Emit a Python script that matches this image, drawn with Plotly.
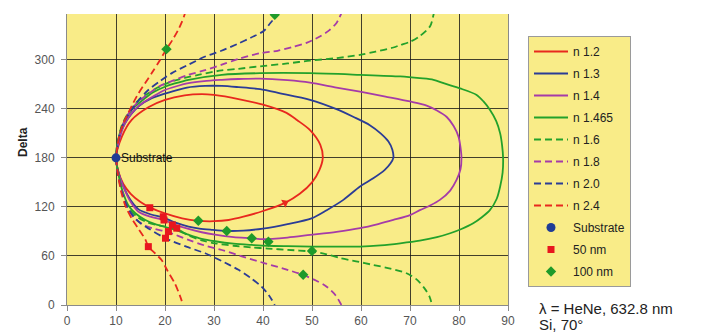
import plotly.graph_objects as go

# ---------------- data (Psi, Delta) ----------------
psi_n12 = [10, 10.5, 11.5, 13, 15, 16.9, 20, 23.5, 26.8, 30, 33, 36, 40, 44.5, 47.5, 50, 51.5, 52.2, 51.7, 49.6, 47, 44.8, 40, 35, 30, 27.5, 24, 20, 16.6, 13.2, 11.2, 10]
del_n12 = [180, 163, 148, 136, 126, 119.5, 112, 106, 103, 102.5, 104, 108, 115, 125, 136, 150, 165, 180, 196, 214, 226, 235, 245, 252, 257, 258, 256.5, 251, 242, 226.5, 206, 180]

psi_n13 = [10, 10.5, 11.5, 13, 14.6, 17, 19.7, 22, 24.8, 27, 29.5, 32.6, 36, 40, 45, 49.9, 53, 56.4, 59.8, 62.5, 64.8, 66, 66.6, 66.4, 65.6, 64, 61.8, 58.5, 55, 49.6, 43.5, 39.4, 35, 31.6, 28.2, 24.5, 21.4, 17.3, 14.6, 11.8, 10.6, 10]
del_n13 = [180, 162, 145, 128, 117, 111, 107, 101, 96, 93.5, 92, 90.6, 91, 93.5, 99, 106, 116, 128.6, 145, 155, 165, 173, 180, 190, 200, 210, 220, 230, 239.6, 251, 259, 264, 266.5, 268, 268, 266, 261, 253, 243, 222, 205, 180]

psi_n14 = [10, 10.5, 11.5, 12.8, 14.6, 17, 19.8, 21.7, 24.8, 27.5, 30.2, 34, 37.7, 40, 45, 49.6, 55, 59.8, 63.5, 66.6, 70, 72, 74.2, 76.1, 78.2, 79.5, 80.3, 80.5, 80.3, 79.9, 78.9, 77.5, 75.5, 73.4, 70, 65, 59.8, 55, 49.6, 45, 39.4, 35, 31.6, 28, 24.8, 22, 20, 17.8, 15.9, 14.5, 13.2, 11.8, 10.8, 10]
del_n14 = [180, 162, 145, 128, 114, 108, 104, 99, 93, 89, 86, 83, 81.6, 80.5, 82.5, 85.7, 89.5, 94, 99, 104, 110, 116, 122, 128.6, 140, 153, 166, 180, 193, 206, 219, 230, 238, 244, 249, 255, 261, 266, 272, 275, 277, 276.5, 275.5, 274, 271.4, 267, 263, 256, 249, 243, 234.7, 222, 205, 180]

psi_n1465 = [10, 10.5, 11.3, 12.5, 14, 16, 18, 21.5, 24.8, 27.5, 30.2, 34, 37.7, 41, 45, 50, 55, 59.8, 64, 68, 72, 75.5, 78.2, 80.5, 82.9, 84.8, 86.3, 87.7, 88.4, 88.9, 89, 88.8, 88.4, 87.6, 86.3, 85, 83.6, 80.2, 77, 74.8, 72, 68, 59.8, 49.6, 39.4, 31.6, 24.8, 22, 20, 17.5, 15.9, 14.5, 13.2, 11.2, 10.4, 10]
del_n1465 = [180, 160, 140, 122, 112, 104, 99, 93, 86, 81, 78, 75, 73.5, 72.5, 72, 71.5, 71.4, 71.5, 73, 75.5, 78.7, 83, 87.8, 93, 100, 108, 116, 130, 145, 162, 180, 195, 210, 225, 238.8, 249, 257, 265, 271, 275.5, 277.5, 279.6, 281.6, 283.6, 283.6, 281.6, 275.5, 271, 267, 260, 253, 246, 238.8, 218, 200, 180]

psi_n16_lo = [10, 10.5, 11.3, 12.5, 14.5, 16.5, 19, 22.4, 24.8, 27.5, 30.2, 34, 37.7, 41, 45, 50, 53, 55.7, 59, 62.5, 66, 69.3, 71.4, 73, 74, 74.5]
del_n16_lo = [180, 160, 138, 119, 107, 101, 97, 93, 85, 79, 75.5, 72.5, 70.5, 69, 67.5, 65.3, 62, 57.5, 53.5, 49, 44.5, 38.8, 31, 20, 10, 0]
psi_n16_hi = [75.0, 74.8, 74.1, 72, 70, 68, 66.6, 63, 59.8, 55, 49.6, 45, 39.4, 35, 31.6, 26.8, 21.4, 18.5, 16.6, 14.5, 12.5, 11.2, 10.4, 10]
del_n16_hi = [360, 355, 341, 329, 322, 318, 315, 310, 306, 302, 299, 295.5, 292, 289, 287, 281.6, 273.5, 266, 259, 250, 234.7, 220, 200, 180]

psi_n18_lo = [10, 10.4, 11.3, 12.5, 14, 16, 18, 20.7, 24.8, 28, 31.6, 36, 40.4, 44.5, 48.2, 50.8, 53, 54.8, 56]
del_n18_lo = [180, 160, 138, 117, 105, 97, 93, 89, 79.6, 73, 67.3, 59, 51, 44, 36.7, 30, 22.4, 12, 0]
psi_n18_hi = [56.2, 56, 55, 53.5, 51.6, 49, 46.2, 43, 39.4, 35, 31.6, 28, 24.8, 21.9, 19.3, 16.8, 14.6, 13, 11.8, 10.8, 10]
del_n18_hi = [360, 357, 345, 336, 328.5, 321, 316, 311, 308, 301, 294, 287, 281.6, 275, 269, 259, 249, 238, 226.5, 208, 180]

psi_n20_lo = [10, 10.4, 11.2, 12.3, 13.5, 15, 16.8, 20.1, 24.5, 28.2, 31.5, 35, 37.5, 39.7, 41.2, 42.4]
del_n20_lo = [180, 160, 138, 120, 109, 100, 93, 81.7, 71, 63.3, 54, 43, 33, 22.4, 12, 0]
psi_n20_hi = [42.9, 42.6, 41.5, 40.2, 37.5, 35, 31.5, 28.2, 24.8, 21.4, 19, 16.6, 14.7, 13.2, 11.8, 10.8, 10]
del_n20_hi = [360, 353, 345, 335.5, 327, 320, 311, 304, 294, 283.7, 274, 263, 251, 238.8, 226, 210, 180]

psi_n24_lo = [10, 10.4, 11, 12, 13.3, 14.6, 16, 16.6, 18, 19.3, 20.5, 22, 23, 23.7]
del_n24_lo = [180, 160, 140, 120, 105, 93, 80, 71.4, 63, 55, 42, 26.5, 12, 0]
psi_n24_hi = [24.3, 24.1, 23.5, 22.7, 21.6, 20.3, 18.8, 17.3, 15.9, 14.6, 13.5, 12.5, 11.5, 10.8, 10.3, 10]
del_n24_hi = [360, 357, 347, 336.7, 325, 313, 298, 283.7, 271, 259, 247, 234.7, 222, 210, 195, 180]

substrate_psi = [10]
substrate_del = [180]

nm50_psi = [16.9, 19.65, 19.8, 21.5, 22.4, 20.7, 20.1, 16.6]
nm50_del = [119, 108, 104, 98, 94, 89.8, 81.7, 71.4]

nm100_psi = [26.8, 32.6, 37.7, 41.1, 50, 48.2, 42.4, 20.3]
nm100_del = [103, 90.6, 81.6, 77.5, 66, 37, 355, 313]

arrow_psi = [44.5]
arrow_del = [125]

x_ticks = [0, 10, 20, 30, 40, 50, 60, 70, 80, 90]
y_ticks = [0, 60, 120, 180, 240, 300, 360]

# ---------------- styling ----------------
RED = "#E8281E"
BLUE = "#2B3C96"
MAG = "#A53BA8"
GREEN = "#23A12B"
BG = "#F9EC88"
DASH = "7px,4px"

# the page body has an 8px margin; figure is sized so it ends at the window edge
OX, OY = 8, 8
FW, FH = 703 - OX, 333 - OY
L, R, T, B = 67 - OX, 703 - 508, 14 - OY, 333 - 305
PW = FW - L - R
PH = FH - T - B


def fx(px):
    return (px - OX - L) / PW


def fy(py):
    return (OY + T + PH - py) / PH


def join(a, b):
    return list(a) + [None] + list(b)


fig = go.Figure()
spl = dict(shape="spline", smoothing=0.8)

series = [
    ("n 1.2", psi_n12, del_n12, RED, "solid"),
    ("n 1.3", psi_n13, del_n13, BLUE, "solid"),
    ("n 1.4", psi_n14, del_n14, MAG, "solid"),
    ("n 1.465", psi_n1465, del_n1465, GREEN, "solid"),
    ("n 1.6", join(psi_n16_lo, psi_n16_hi), join(del_n16_lo, del_n16_hi), GREEN, DASH),
    ("n 1.8", join(psi_n18_lo, psi_n18_hi), join(del_n18_lo, del_n18_hi), MAG, DASH),
    ("n 2.0", join(psi_n20_lo, psi_n20_hi), join(del_n20_lo, del_n20_hi), BLUE, DASH),
    ("n 2.4", join(psi_n24_lo, psi_n24_hi), join(del_n24_lo, del_n24_hi), RED, DASH),
]
for i, (name, xs, ys, col, dash) in enumerate(series):
    fig.add_trace(go.Scatter(
        x=xs, y=ys, mode="lines", name=name, legendgroup=f"g{i}",
        line=dict(color=col, width=1.8, dash=dash, **spl),
        connectgaps=False, hoverinfo="skip"))

# arrow on the n 1.2 curve (not in legend)
fig.add_trace(go.Scatter(x=arrow_psi, y=arrow_del, mode="markers", showlegend=False,
                         marker=dict(symbol="triangle-up", size=8, color=RED, angle=62),
                         hoverinfo="skip"))

fig.add_trace(go.Scatter(x=substrate_psi, y=substrate_del, mode="markers", name="Substrate",
                         legendgroup="g8",
                         marker=dict(symbol="circle", size=9, color="#1F3C96")))
fig.add_trace(go.Scatter(x=nm50_psi, y=nm50_del, mode="markers", name="50 nm",
                         legendgroup="g9",
                         marker=dict(symbol="square", size=7, color="#E8161E")))
fig.add_trace(go.Scatter(x=nm100_psi, y=nm100_del, mode="markers", name="100 nm",
                         legendgroup="g10",
                         marker=dict(symbol="diamond", size=8, color="#1E9A2A")))

font_family = "Liberation Sans, Arial, sans-serif"

fig.update_layout(
    width=FW, height=FH,
    margin=dict(l=L, r=R, t=T, b=B, autoexpand=False),
    paper_bgcolor="white", plot_bgcolor=BG,
    font=dict(family=font_family, size=12, color="#555555"),
    showlegend=True,
    legend=dict(x=fx(528), y=fy(36), xanchor="left", yanchor="top",
                bgcolor=BG, bordercolor="#9a9a9a", borderwidth=1,
                font=dict(family=font_family, size=12, color="#222222"),
                tracegroupgap=3, traceorder="grouped", itemwidth=34),
    xaxis=dict(range=[0, 90], tickvals=x_ticks, showgrid=True, automargin=False,
               gridcolor="rgba(20,20,20,0.8)", gridwidth=1,
               showline=True, linecolor="#8a8a8a", linewidth=1,
               ticks="outside", ticklen=5, tickcolor="#8a8a8a",
               zeroline=False, tickfont=dict(size=12, color="#555555")),
    yaxis=dict(range=[0, 356], tickvals=y_ticks, showgrid=True, automargin=False,
               gridcolor="rgba(20,20,20,0.8)", gridwidth=1,
               showline=True, linecolor="#8a8a8a", linewidth=1, mirror=True,
               ticks="outside", ticklen=5, tickcolor="#8a8a8a",
               zeroline=False, tickfont=dict(size=12, color="#555555"),
               ticklabelstandoff=4),
    annotations=[
        dict(text="<b>Delta</b>", x=fx(23), xref="paper", y=fy(142), yref="paper",
             showarrow=False, textangle=-90, font=dict(size=12, color="#222222"),
             xanchor="center", yanchor="middle"),
        dict(text="Substrate", x=10.6, y=180, xref="x", yref="y", showarrow=False,
             xanchor="left", yanchor="middle", font=dict(size=12, color="#111111")),
        dict(text="λ = HeNe, 632.8 nm", x=fx(537), y=fy(308),
             xref="paper", yref="paper",
             showarrow=False, xanchor="left", yanchor="middle",
             font=dict(size=15, color="#222222")),
        dict(text="Si, 70°", x=fx(537), y=fy(324),
             xref="paper", yref="paper",
             showarrow=False, xanchor="left", yanchor="middle",
             font=dict(size=15, color="#222222")),
    ],
)

fig.write_html("out.html")
